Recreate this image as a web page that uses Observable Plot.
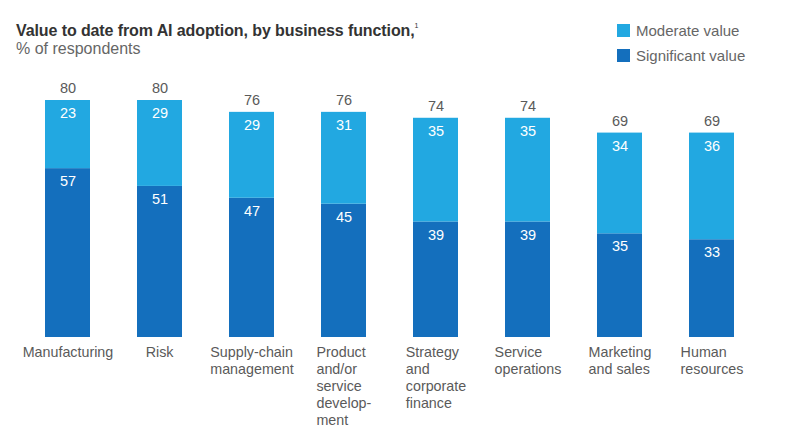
<!DOCTYPE html>
<html><head><meta charset="utf-8">
<script src="https://cdn.jsdelivr.net/npm/d3@7"></script>
<script src="https://cdn.jsdelivr.net/npm/@observablehq/plot@0.6"></script>
<style>
body{margin:0;background:#fff;font-family:"Liberation Sans",Arial,sans-serif;}
#wrap{position:relative;width:787px;height:443px;}
#title{position:absolute;left:16px;top:22px;font-size:16px;color:#333;font-weight:bold;letter-spacing:-0.1px;}
#title sup{font-size:7px;font-weight:normal;vertical-align:8px;}
#sub{position:absolute;left:16px;top:40px;font-size:16px;color:#666;}
.leg{position:absolute;left:617px;font-size:15px;color:#666;display:flex;align-items:center;}
.leg span{display:inline-block;width:13px;height:13px;margin-right:6px;}
#chart{position:absolute;left:0;top:0;}
</style></head><body>
<div id="wrap">
<div id="chart"></div>
<div id="title">Value to date from AI adoption, by business function,<sup>1</sup></div>
<div id="sub">% of respondents</div>
<div class="leg" style="top:22px"><span style="background:#22a8e1"></span>Moderate value</div>
<div class="leg" style="top:47px"><span style="background:#146fbd"></span>Significant value</div>
</div>
<script>
const categories = ["Manufacturing","Risk","Supply-chain\nmanagement","Product\nand/or\nservice\ndevelop-\nment","Strategy\nand\ncorporate\nfinance","Service\noperations","Marketing\nand sales","Human\nresources"];
const significant = [57,51,47,45,39,39,35,33];
const moderate = [23,29,29,31,35,35,34,36];
const totals = [80,80,76,76,74,74,69,69];
const seriesNames = ["Significant value","Moderate value"];
const colors = ["#146fbd","#22a8e1"];

const rows = [];
categories.forEach((c,i)=>{
  rows.push({cat:c, series:seriesNames[0], y1:0, y2:significant[i], v:significant[i]});
  rows.push({cat:c, series:seriesNames[1], y1:significant[i], y2:significant[i]+moderate[i], v:moderate[i]});
});
const totalRows = categories.map((c,i)=>({cat:c, total:totals[i]}));

const plot = Plot.plot({
  width:787, height:443,
  marginLeft:43.5, marginRight:52, marginTop:100, marginBottom:106,
  style:{fontFamily:'"Liberation Sans",Arial,sans-serif', background:"transparent"},
  x:{domain:categories, paddingInner:0.513, paddingOuter:0, axis:null},
  y:{domain:[0,80], axis:null},
  color:{domain:seriesNames, range:colors},
  marks:[
    Plot.rectY(rows,{x:"cat", y1:"y1", y2:"y2", fill:"series"}),
    Plot.text(rows,{x:"cat", y:"y2", text:d=>String(d.v), dy:13, fill:"white", fontSize:14.5}),
    Plot.text(totalRows,{x:"cat", y:"total", text:d=>String(d.total), dy:-12, fill:"#5a5a5a", fontSize:14.5}),
    Plot.text(categories,{x:d=>d, frameAnchor:"bottom", dy:7, lineAnchor:"top", textAnchor:"start", text:d=>d, fill:"#5a5a5a", fontSize:14.3, lineHeight:1.2, className:"xlabels"})
  ]
});
document.getElementById("chart").appendChild(plot);
// center each left-aligned label block on its bar
d3.select(plot).selectAll('.xlabels text').each(function(){
  const bb = this.getBBox();
  const cur = this.getAttribute("transform") || "";
  this.setAttribute("transform", cur + ` translate(${-bb.width/2},0)`);
});
</script>
</body></html>
